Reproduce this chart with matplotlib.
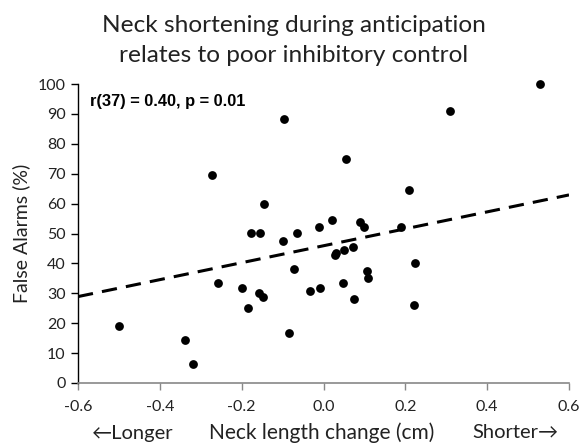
import matplotlib
matplotlib.use("Agg")
import matplotlib.pyplot as plt
import numpy as np

neck_change = [-0.499, -0.338, -0.320, -0.273, -0.259, -0.199, -0.185, -0.178, -0.158, -0.154,
               -0.148, -0.146, -0.098, -0.096, -0.084, -0.072, -0.065, -0.033, -0.011, -0.008,
               0.021, 0.027, 0.030, 0.047, 0.049, 0.056, 0.073, 0.075, 0.088, 0.098,
               0.106, 0.108, 0.190, 0.210, 0.222, 0.224, 0.309, 0.529]
false_alarms = [19.0, 14.5, 6.3, 69.6, 33.4, 31.8, 25.0, 50.1, 30.1, 50.1,
                28.7, 60.0, 47.4, 88.2, 16.7, 38.2, 50.1, 30.8, 52.3, 31.8,
                54.6, 42.8, 43.6, 33.4, 44.4, 75.0, 45.6, 28.1, 53.9, 52.1,
                37.6, 35.0, 52.3, 64.4, 26.2, 40.1, 90.9, 100.0]
fit_x = [-0.6, 0.6]
fit_y = [28.9, 62.9]
x_ticks = [-0.6, -0.4, -0.2, 0.0, 0.2, 0.4, 0.6]
y_ticks = [0, 10, 20, 30, 40, 50, 60, 70, 80, 90, 100]

W, H = 581, 446
fig = plt.figure(figsize=(W/100, H/100), dpi=100)
ax = fig.add_axes([78/W, 1-383/H, (569-78)/W, (383-84)/H])

fam = ['Lato', 'DejaVu Sans']
ax.scatter(neck_change, false_alarms, s=40, color='black', zorder=3, linewidths=0, clip_on=False)
ax.plot(fit_x, fit_y, color='black', lw=2.2, ls=(0, (5, 3)), zorder=2)

ax.set_xlim(-0.6, 0.6)
ax.set_ylim(0, 100)
ax.set_xticks(x_ticks)
ax.set_xticklabels([f"{v:.1f}" for v in x_ticks], family=fam, fontsize=11.5, color='#222222')
ax.set_yticks(y_ticks)
ax.set_yticklabels([str(v) for v in y_ticks], family=fam, fontsize=11.5, color='#222222')
for s in ['top', 'right']:
    ax.spines[s].set_visible(False)
ax.spines['left'].set_color('black')
ax.spines['bottom'].set_color('#888888')
ax.spines['left'].set_linewidth(1.0)
ax.spines['bottom'].set_linewidth(1.2)
ax.tick_params(axis='y', direction='out', length=5, width=1, color='black', pad=4)
ax.tick_params(axis='x', direction='out', length=5, width=1, color='#888888', pad=7)

ax.text(0.025, 0.94, "r(37) = 0.40, p = 0.01", transform=ax.transAxes,
        family='Liberation Sans', fontweight='bold', fontsize=11.8, va='center', ha='left')

fig.text(294/W, 1-25/H, "Neck shortening during anticipation", family=fam, fontsize=17.6,
         ha='center', va='center', color='#222222')
fig.text(294/W, 1-56/H, "relates to poor inhibitory control", family=fam, fontsize=17.6,
         ha='center', va='center', color='#222222')
fig.text(21/W, 1-233/H, "False Alarms (%)", family=fam, fontsize=14, rotation=90,
         ha='center', va='center', color='#222222')
fig.text(92/W, 1-433/H, "←Longer", family=fam, fontsize=14.5, ha='left', va='center', color='#222222')
fig.text(322/W, 1-433/H, "Neck length change (cm)", family=fam, fontsize=15, ha='center', va='center', color='#222222')
fig.text(558/W, 1-433/H, "Shorter→", family=fam, fontsize=14.5, ha='right', va='center', color='#222222')

fig.savefig("out.png", dpi=100)
